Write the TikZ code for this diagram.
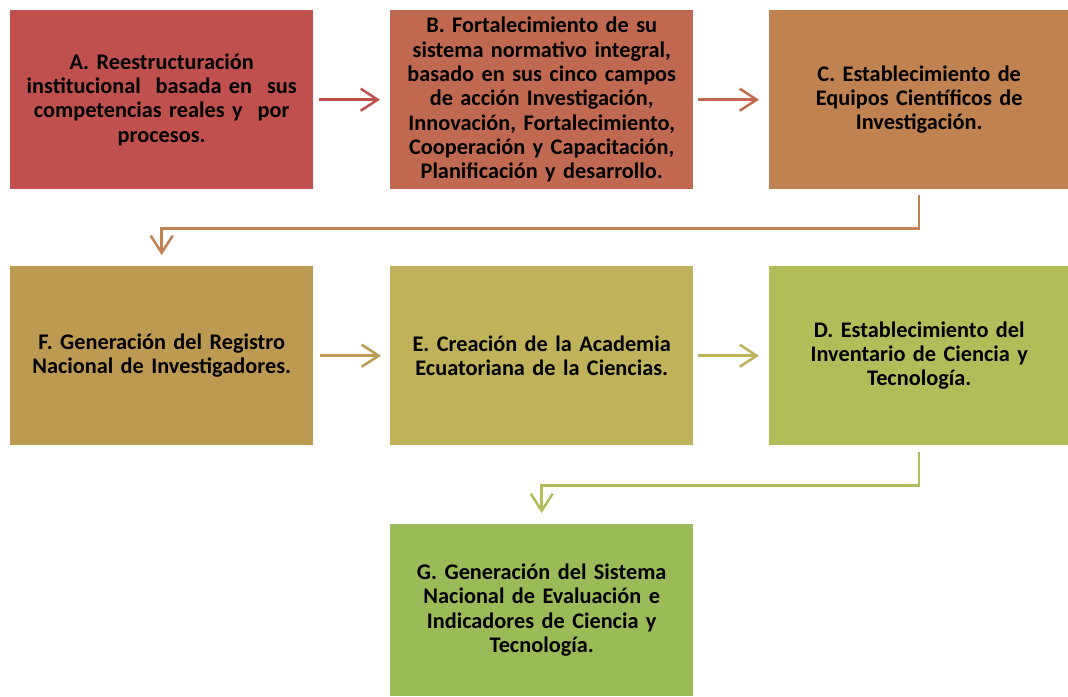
\documentclass[tikz,border=0pt]{standalone}
\usepackage{fontspec}
\setmainfont{Carlito}[WordSpace=0.8]
\usetikzlibrary{arrows.meta}
\definecolor{cA}{RGB}{192,80,77}
\definecolor{cB}{RGB}{193,105,80}
\definecolor{cC}{RGB}{191,130,80}
\definecolor{cF}{RGB}{189,154,82}
\definecolor{cE}{RGB}{192,178,90}
\definecolor{cD}{RGB}{178,188,88}
\definecolor{cG}{RGB}{155,187,89}
\tikzset{
  box/.style={anchor=north west, minimum width=303pt, minimum height=179pt,
    inner sep=0pt, text width=300pt, align=center,
    font=\fontsize{22.3}{24.3}\selectfont\bfseries, text=black},
  conn/.style={line width=2.5pt, -{Straight Barb[length=17pt,width=22pt,line width=2.5pt]}},
}
\begin{document}
\begin{tikzpicture}[x=1pt,y=-1pt]
\useasboundingbox (0,0) rectangle (1068,696);
\node[box, fill=cA] (A) at (10,10) {A. Reestructuración\\institucional\ \ basada en\ \ sus\\competencias reales y\ \ por\\procesos.};
\node[box, fill=cB] (B) at (390,10) {B. Fortalecimiento de su\\sistema normativo integral,\\basado en sus cinco campos\\de acción Investigación,\\Innovación, Fortalecimiento,\\Cooperación y Capacitación,\\Planificación y desarrollo.};
\node[box, fill=cC, minimum width=299pt] (C) at (769,10) {C. Establecimiento de\\Equipos Científicos de\\Investigación.};
\node[box, fill=cF] (F) at (10,266) {F. Generación del Registro\\Nacional de Investigadores.};
\node[box, fill=cE] (E) at (390,266) {E. Creación de la Academia\\Ecuatoriana de la Ciencias.};
\node[box, fill=cD, minimum width=299pt] (D) at (769,266) {D. Establecimiento del\\Inventario de Ciencia y\\Tecnología.};
\node[box, fill=cG, minimum height=172pt] (G) at (390,524) {G. Generación del Sistema\\Nacional de Evaluación e\\Indicadores de Ciencia y\\Tecnología.};
\draw[conn, cA, shorten <=6pt, shorten >=10pt] (A) -- (B);
\draw[conn, cB, shorten <=5pt, shorten >=10pt] (B) -- (C);
\draw[conn, cF, shorten <=7pt, shorten >=9pt] (F) -- (E);
\draw[conn, cE, shorten <=5pt, shorten >=10pt] (E) -- (D);
\draw[conn, cC] ([yshift=-6pt]C.south) -- ([yshift=-39pt]C.south) -| ([yshift=11pt]F.north);
\draw[conn, cD] ([yshift=-7pt]D.south) -- ([yshift=-40pt]D.south) -| ([yshift=11pt]G.north);
\end{tikzpicture}
\end{document}
